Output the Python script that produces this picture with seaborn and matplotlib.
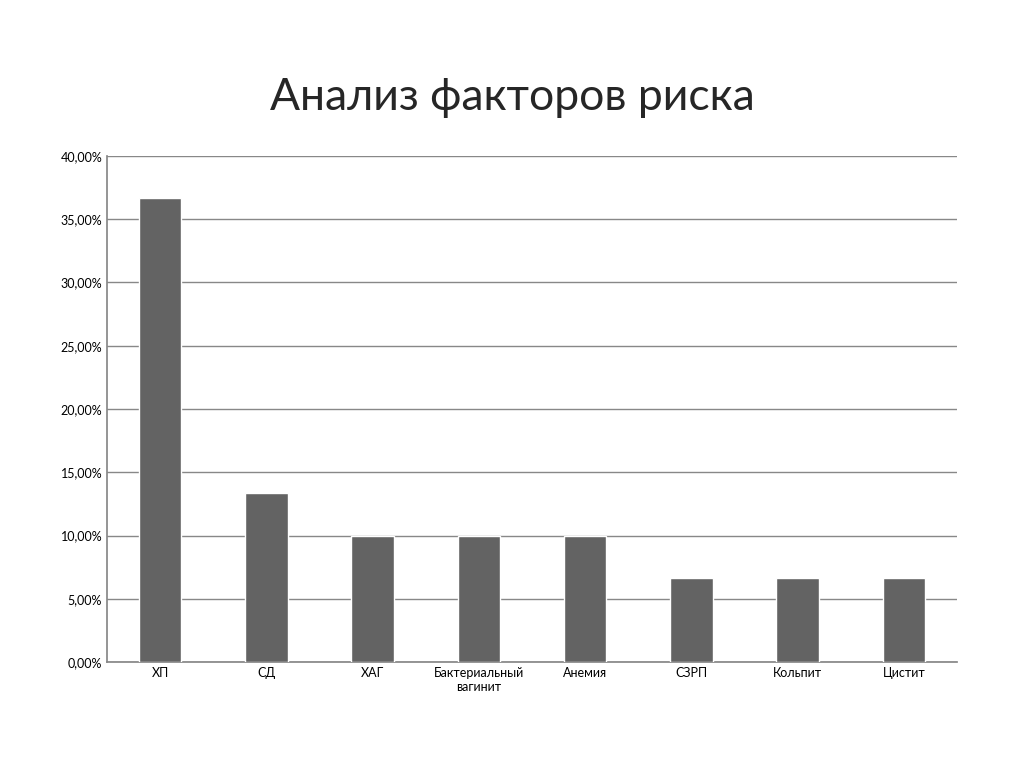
import matplotlib
matplotlib.use("Agg")
import matplotlib.pyplot as plt
import matplotlib.ticker as mticker
import seaborn as sns

# Данные
categories = ["ХП", "СД", "ХАГ", "Бактериальный\nвагинит", "Анемия", "СЗРП", "Кольпит", "Цистит"]
values = [36.67, 13.33, 10.0, 10.0, 10.0, 6.67, 6.67, 6.67]

sns.set_theme(style="white")
plt.rcParams["font.family"] = ["Lato", "DejaVu Sans"]

fig = plt.figure(figsize=(10.24, 7.67), dpi=100)
ax = fig.add_axes([107 / 1024, 1 - 662 / 767, (957 - 107) / 1024, (662 - 156) / 767])

sns.barplot(x=categories, y=values, color="#636363", width=0.4, saturation=1, ax=ax, zorder=3)

ax.set_ylim(0, 40)
ax.set_yticks(range(0, 41, 5))
ax.yaxis.set_major_formatter(mticker.FuncFormatter(lambda v, p: f"{v:.2f}%".replace(".", ",")))
ax.grid(axis="y", color="#888888", linewidth=1, zorder=0)
ax.set_xlabel("")
ax.set_ylabel("")
ax.tick_params(axis="both", labelsize=9, colors="black", length=0)
for side in ["top", "right"]:
    ax.spines[side].set_visible(False)
ax.spines["left"].set_color("#888888")
ax.spines["bottom"].set_color("#888888")
ax.set_xlim(-0.5, len(categories) - 0.5)

fig.text(0.5, 1 - 97 / 767, "Анализ факторов риска", ha="center", va="center", fontsize=32)

plt.savefig("out.png", dpi=100)
